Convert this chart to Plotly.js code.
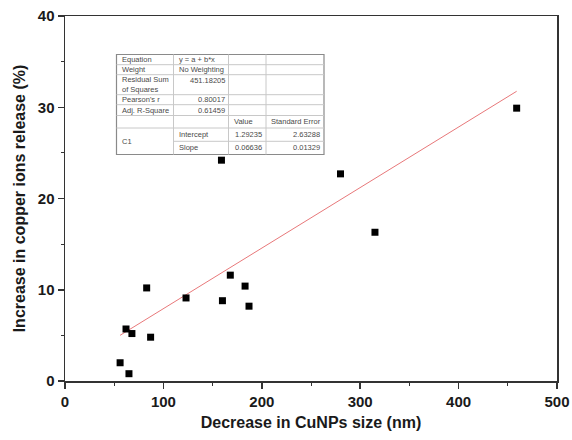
<!DOCTYPE html>
<html>
<head>
<meta charset="utf-8">
<script src="https://cdn.plot.ly/plotly-3.0.1.min.js"></script>
<style>html,body{margin:0;padding:0;background:#fff;}#chart{width:572px;height:440px;}</style>
</head>
<body>
<div id="chart"></div>
<script>
// Data
var sizeDecrease = [56, 65, 62, 68, 83, 87, 123, 160, 168, 183, 187, 159, 280, 315, 459];
var releaseIncrease = [2.0, 0.8, 5.7, 5.2, 10.2, 4.8, 9.1, 8.8, 11.6, 10.4, 8.2, 24.2, 22.7, 16.3, 29.9];
var fitIntercept = 1.29235;
var fitSlope = 0.06636;

// Fit-report table texts
var tableLabels = ["Equation", "Weight", "Residual Sum<br>of Squares", "Pearson's r", "Adj. R-Square"];
var tableValues = ["y = a + b*x", "No Weighting", "451.18205", "0.80017", "0.61459"];
var paramHeaders = ["Value", "Standard Error"];
var paramNames = ["Intercept", "Slope"];
var paramValues = ["1.29235", "0.06636"];
var paramErrors = ["2.63288", "0.01329"];

var xMin = Math.min.apply(null, sizeDecrease), xMax = Math.max.apply(null, sizeDecrease);
var fitX = [xMin, xMax];
var fitY = fitX.map(function (v) { return fitIntercept + fitSlope * v; });

// plot area in pixels
var L = 65, R = 557, T = 16, B = 381;
function px(x) { return (x - L) / (R - L); }
function py(y) { return (B - y) / (B - T); }

var shapes = [];
var ann = [];
var lineC = "#c8c8c8";
function hline(x0, x1, y, c) { shapes.push({type: "line", xref: "paper", yref: "paper", x0: px(x0), x1: px(x1), y0: py(y), y1: py(y), line: {color: c || lineC, width: 1}}); }
function vline(x, y0, y1, c) { shapes.push({type: "line", xref: "paper", yref: "paper", x0: px(x), x1: px(x), y0: py(y0), y1: py(y1), line: {color: c || lineC, width: 1}}); }
function txt(x, y, s, anchor) {
  ann.push({xref: "paper", yref: "paper", x: px(x), y: py(y), text: s, showarrow: false, xanchor: anchor || "left", yanchor: "middle",
    font: {family: "Liberation Sans, Arial, sans-serif", size: 7.5, color: "#4a4a4a"}, align: "left"});
}
var tL = 116.5, tR = 324, tT = 54.5, tB = 154.5;
var c1 = 173.5, c2 = 228.5, c3 = 266;
var rows = [54.5, 64.7, 74.7, 94.7, 104.7, 115.5, 128, 141.3, 154.5];
// background
shapes.push({type: "rect", xref: "paper", yref: "paper", x0: px(tL), x1: px(tR), y0: py(tT), y1: py(tB), fillcolor: "#ffffff", line: {color: "#8a8a8a", width: 1.2}, layer: "above"});
for (var i = 1; i < rows.length - 1; i++) {
  hline(i === 7 ? c1 : tL, tR, rows[i]);
}
vline(c1, tT, tB); vline(c2, tT, tB); vline(c3, tT, tB);
for (var k = 0; k < tableLabels.length; k++) {
  var yc = k === 2 ? (rows[2] + rows[3]) / 2 : (rows[k] + rows[k + 1]) / 2;
  txt(tL + 3, yc, tableLabels[k], "left");
  if (k === 0 || k === 1) txt(c1 + 3, yc, tableValues[k], "left");
  else txt(c2 - 2, k === 2 ? (rows[2] + 5.5) : yc, tableValues[k], "right");
}
txt(c2 + 3, (rows[5] + rows[6]) / 2, paramHeaders[0], "left");
txt(c3 + 3, (rows[5] + rows[6]) / 2, paramHeaders[1], "left");
txt(tL + 3, (rows[6] + rows[8]) / 2, "C1", "left");
for (var j = 0; j < 2; j++) {
  var yr = (rows[6 + j] + rows[7 + j]) / 2;
  txt(c1 + 3, yr, paramNames[j], "left");
  txt(c3 - 2, yr, paramValues[j], "right");
  txt(tR - 2, yr, paramErrors[j], "right");
}

var traces = [
  {x: fitX, y: fitY, mode: "lines", type: "scatter", line: {color: "#e8787a", width: 1}, hoverinfo: "skip"},
  {x: sizeDecrease, y: releaseIncrease, mode: "markers", type: "scatter", marker: {symbol: "square", size: 7, color: "#000000"}}
];

var axFont = {family: "Liberation Sans, Arial, sans-serif", size: 15, color: "#1a1a1a", weight: "bold"};
var layout = {
  width: 572, height: 440,
  margin: {l: L, r: 572 - R, t: T, b: 440 - B},
  showlegend: false,
  paper_bgcolor: "#fff", plot_bgcolor: "#fff",
  xaxis: {range: [0, 500], dtick: 100, tick0: 0, showgrid: false, zeroline: false, showline: true, mirror: true,
    linecolor: "#333", linewidth: 1.5, ticks: "outside", ticklen: 6, tickwidth: 1.5, tickcolor: "#333",
    minor: {dtick: 50, ticks: "outside", ticklen: 3, tickwidth: 1, tickcolor: "#333"},
    tickfont: axFont, title: {text: "Decrease in CuNPs size (nm)", font: {family: "Liberation Sans, Arial, sans-serif", size: 16, color: "#1a1a1a", weight: "bold"}, standoff: 8}},
  yaxis: {range: [0, 40], dtick: 10, tick0: 0, showgrid: false, zeroline: false, showline: true, mirror: true,
    linecolor: "#333", linewidth: 1.5, ticks: "outside", ticklen: 6, tickwidth: 1.5, tickcolor: "#333",
    minor: {dtick: 5, ticks: "outside", ticklen: 3, tickwidth: 1, tickcolor: "#333"},
    tickfont: axFont, title: {text: "Increase in copper ions release (%)", font: {family: "Liberation Sans, Arial, sans-serif", size: 16, color: "#1a1a1a", weight: "bold"}, standoff: 8}},
  shapes: shapes,
  annotations: ann
};
Plotly.newPlot("chart", traces, layout, {displayModeBar: false, staticPlot: true});
</script>
</body>
</html>
